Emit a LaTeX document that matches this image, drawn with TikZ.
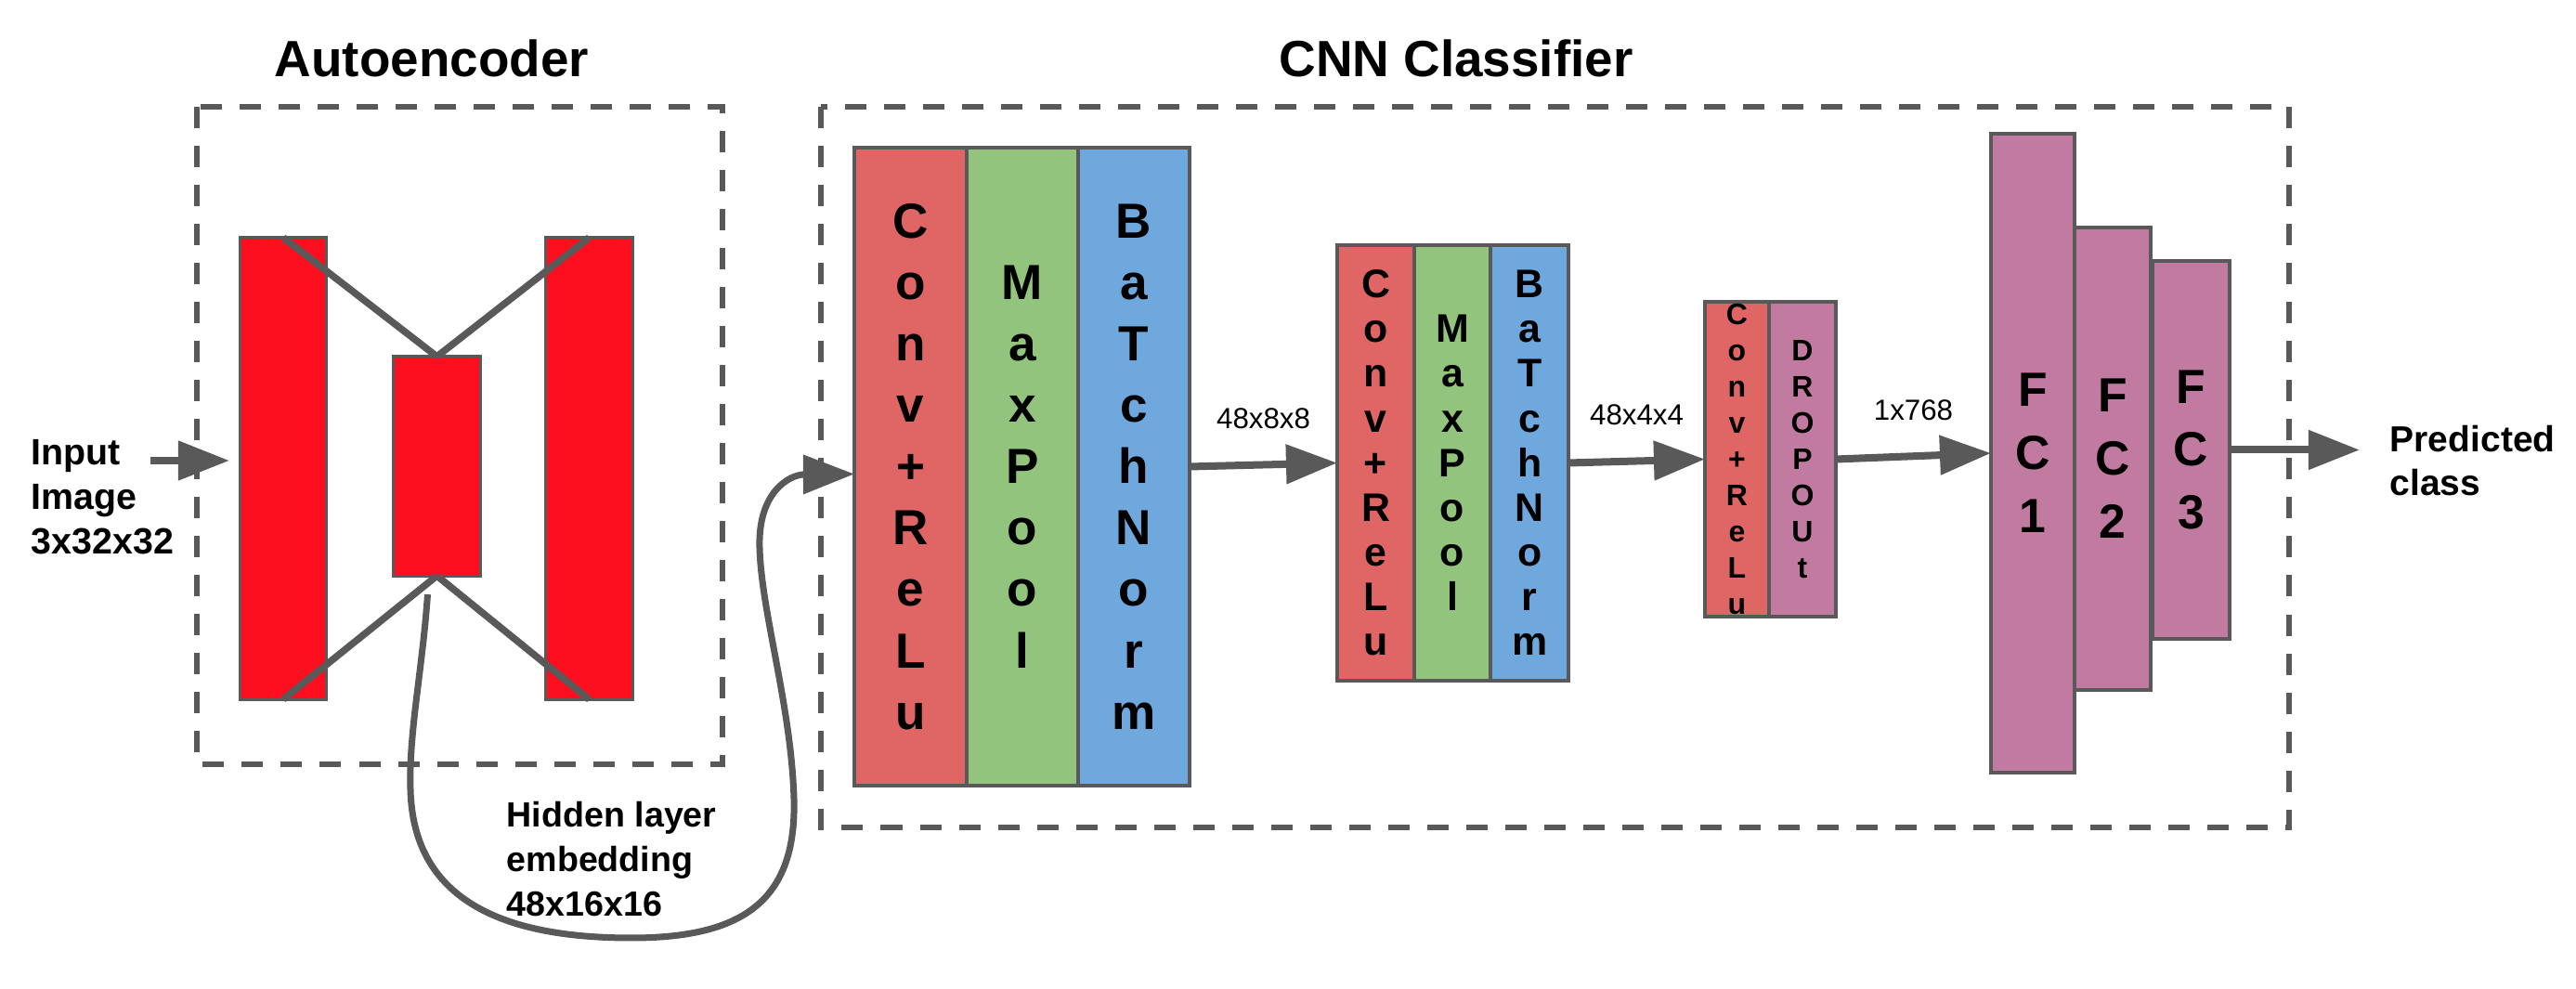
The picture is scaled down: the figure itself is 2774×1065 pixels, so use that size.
\documentclass[tikz,border=0pt]{standalone}
\usepackage{fontspec}
\setmainfont{Liberation Sans}
\usetikzlibrary{arrows.meta, positioning}

\definecolor{aered}{RGB}{252,14,30}
\definecolor{convred}{HTML}{E06666}
\definecolor{poolgreen}{HTML}{93C47D}
\definecolor{normblue}{HTML}{6FA8DC}
\definecolor{fcpink}{HTML}{C27BA0}
\definecolor{edgegray}{HTML}{595959}

\begin{document}
\begin{tikzpicture}[
  x=0.01cm, y=-0.01cm,
  layer/.style={rectangle, draw=edgegray, line width=0.035cm, inner sep=0pt, outer sep=0pt,
    text centered, align=center, fill=#1},
  aelayer/.style={rectangle, draw=edgegray, line width=0.03cm, inner sep=0pt, outer sep=0pt,
    fill=aered, minimum width=0.93cm},
  bigfont/.style={font=\fontsize{15.1}{18.8}\selectfont\bfseries},
  midfont/.style={font=\fontsize{12.2}{13.7}\selectfont\bfseries},
  smallfont/.style={font=\fontsize{9.1}{11.1}\selectfont\bfseries},
  fcfont/.style={font=\fontsize{14.7}{19.3}\selectfont\bfseries},
  title/.style={font=\fontsize{15.6}{18}\selectfont\bfseries, inner sep=0pt},
  note/.style={align=left, inner sep=0pt, font=\fontsize{11.2}{13.7}\selectfont\bfseries},
  dimlabel/.style={font=\fontsize{8.9}{10}\selectfont, above=0.23cm, midway},
  frame/.style={draw=edgegray, line width=0.06cm, dash pattern=on 0.23cm off 0.19cm},
  xline/.style={draw=edgegray, line width=0.075cm},
  arrow/.style={draw=edgegray, line width=0.08cm, -{Triangle[length=0.55cm, width=0.41cm]}},
  link/.style={draw=edgegray, line width=0.07cm, -{Triangle[length=0.55cm, width=0.41cm]}}
]
\useasboundingbox (0,0) rectangle (2774,1065);

% frames and titles
\draw[frame] (212,115) rectangle (778,823);
\draw[frame] (884,115) rectangle (2465,891);
\node (aetitle) [title] at (465,63) {Autoencoder};
\node (cnntitle) [title] at (1568,63) {CNN Classifier};

% autoencoder
\node (enc) [aelayer, minimum width=0.92cm, minimum height=4.97cm] at (305,504.5) {};
\node (code) [aelayer, minimum height=2.36cm] at (470.5,502) {};
\node (dec) [aelayer, minimum height=4.97cm] at (634.5,504.5) {};
\draw[xline] (enc.north) -- (code.north);
\draw[xline] (dec.north) -- (code.north);
\draw[xline] (code.south) -- (enc.south);
\draw[xline] (code.south) -- (dec.south);

% CNN layers
\node (conv1) [layer=convred, bigfont, minimum width=1.21cm, minimum height=6.87cm] at (980.5,502.5)
  {C\\o\\n\\v\\+\\R\\e\\L\\u};
\node (pool1) [layer=poolgreen, bigfont, minimum width=1.20cm, minimum height=6.87cm, right=0pt of conv1]
  {M\\a\\x\\P\\o\\o\\l};
\node (norm1) [layer=normblue, bigfont, minimum width=1.20cm, minimum height=6.87cm, right=0pt of pool1]
  {B\\a\\T\\c\\h\\N\\o\\r\\m};

\node (conv2) [layer=convred, midfont, minimum width=0.83cm, minimum height=4.69cm] at (1481.5,498.5)
  {C\\o\\n\\v\\+\\R\\e\\L\\u};
\node (pool2) [layer=poolgreen, midfont, minimum width=0.82cm, minimum height=4.69cm, right=0pt of conv2]
  {M\\a\\x\\P\\o\\o\\l};
\node (norm2) [layer=normblue, midfont, minimum width=0.84cm, minimum height=4.69cm, right=0pt of pool2]
  {B\\a\\T\\c\\h\\N\\o\\r\\m};

\node (conv3) [layer=convred, smallfont, minimum width=0.69cm, minimum height=3.39cm] at (1870.5,494.5)
  {C\\o\\n\\v\\+\\R\\e\\L\\u};
\node (drop3) [layer=fcpink, smallfont, minimum width=0.72cm, minimum height=3.39cm, right=0pt of conv3]
  {D\\R\\O\\P\\O\\U\\t};

\node (fc1) [layer=fcpink, fcfont, minimum width=0.90cm, minimum height=6.88cm] at (2189,488) {F\\C\\1};
\node (fc2) [layer=fcpink, fcfont, minimum width=0.82cm, minimum height=4.98cm] at (2275,494) {F\\C\\2};
\node (fc3) [layer=fcpink, fcfont, minimum width=0.83cm, minimum height=4.07cm] at (2359.5,484.5) {F\\C\\3};

% texts
\node (input) [note, anchor=west] at (33,535) {Input\\Image\\3x32x32};
\node (hidden) [note, anchor=west, font=\fontsize{10.7}{13.7}\selectfont\bfseries] at (545,925)
  {Hidden layer\\embedding\\48x16x16};
\node (pred) [note, anchor=west, font=\fontsize{11.1}{13.4}\selectfont\bfseries] at (2573,496)
  {Predicted\\class};
\coordinate (inpt) at (162,496);

% connectors
\draw[arrow, shorten >=0.12cm] (inpt) -- (inpt -| enc.west);
\draw[link] ([shift={(-0.1cm,-0.2cm)}]code.south) .. controls (455,720) and (440,790) .. (442,850)
  .. controls (445,980) and (560,1010) .. (680,1010)
  .. controls (800,1010) and (858,970) .. (855,860)
  .. controls (852,760) and (820,660) .. (818,590)
  .. controls (816,530) and (850,511) .. ([yshift=-0.08cm]conv1.west);
\draw[arrow] (norm1.east) -- node[dimlabel]{48x8x8} (conv2.west);
\draw[arrow] (norm2.east) -- node[dimlabel]{48x4x4} (conv3.west);
\draw[arrow] (drop3.east) -- node[dimlabel]{1x768} (fc1.west);
\draw[arrow, shorten >=0.32cm] (fc3.east) -- (fc3.east -| pred.west);

\end{tikzpicture}
\end{document}
